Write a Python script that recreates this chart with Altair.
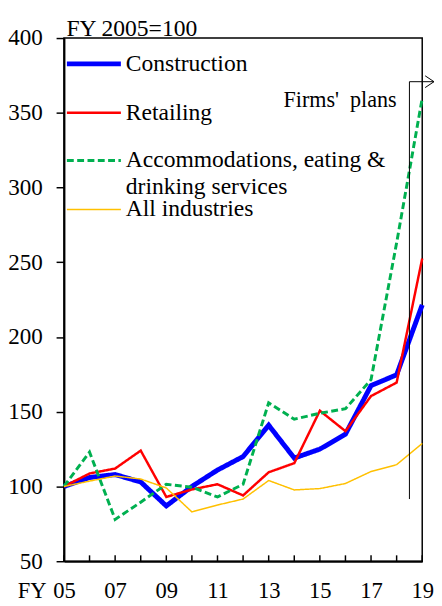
import altair as alt
import pandas as pd

# ---- data ----
years = list(range(2005, 2020))
construction = [100, 106, 108, 103, 87, 100, 111, 120, 141, 119, 125, 135, 167.5, 174.7, 221.5]
retailing = [100, 108.7, 112, 124, 93, 98, 101.5, 94, 109.5, 115.6, 150.7, 137, 160.5, 169.5, 252.5]
accommodations = [100, 123, 78, 89.5, 101.5, 99.5, 93, 101.5, 156, 145, 149, 152, 171.5, 263, 359.7]
all_industries = [100, 103.6, 107, 105, 99, 83, 87.6, 91.6, 104, 97.7, 98.6, 102, 110, 114.6, 128.8]

series_names = ["Construction", "Retailing",
                "Accommodations, eating & drinking services", "All industries"]
legend_lines = [["Construction"], ["Retailing"],
                ["Accommodations, eating &", "drinking services"], ["All industries"]]
series_values = [construction, retailing, accommodations, all_industries]

x_tick_values = [2005, 2007, 2009, 2011, 2013, 2015, 2017, 2019]
x_tick_labels = ["05", "07", "09", "11", "13", "15", "17", "19"]
y_tick_values = [50, 100, 150, 200, 250, 300, 350, 400]

plans_label = "Firms'\u00a0\u00a0plans"
plans_x = 2018.5
plans_bottom = 91.6
plans_top = 370.8
arrow_end_x = 2019.46
plans_text_x = 2018.0
plans_text_y = 353.8

# ---- styles ----
FONT = "Liberation Serif"
styles = [
    dict(color="#0000FF", width=5, dash=[1, 0]),
    dict(color="#FF0000", width=2.5, dash=[1, 0]),
    dict(color="#00B050", width=3, dash=[7, 3.5]),
    dict(color="#FFC000", width=1.5, dash=[1, 0]),
]

W, H = 365, 533
PAD_TOP, PAD_LEFT, PAD_RIGHT, PAD_BOTTOM = 25, 57, 12, 40

xs = alt.Scale(domain=[2005, 2019], nice=False, zero=False)
ys = alt.Scale(domain=[50, 400], nice=False, zero=False)

label_arr = "[" + ",".join("'%s'" % s for s in x_tick_labels) + "]"

x_axis = alt.Axis(values=x_tick_values, labelExpr=f"{label_arr}[round((datum.value-2005)/2)]",
                  ticks=False, tickSize=0, grid=False, domainColor="black", domainWidth=2,
                  labelFont=FONT, labelFontSize=23, labelColor="black", labelBaseline="alphabetic",
                  labelPadding=37, labelFlush=False, labelOverlap=False,
                  title="FY", titleFont=FONT, titleFontSize=23, titleFontWeight="normal",
                  titleColor="black", titleX=-33, titleY=37, titleAlign="center",
                  titleBaseline="alphabetic", titleAnchor="start")
y_axis = alt.Axis(values=y_tick_values, grid=False, domainColor="black", domainWidth=2,
                  tickColor="black", tickSize=8, tickWidth=1.5,
                  labelFont=FONT, labelFontSize=23.5, labelColor="black", labelPadding=14,
                  labelBaseline="middle", labelFlush=False, labelOverlap=False,
                  title="FY 2005=100", titleFont=FONT, titleFontSize=24, titleFontWeight="normal",
                  titleColor="black", titleAngle=0, titleAlign="left", titleBaseline="alphabetic",
                  titleX=2, titleY=-3, titleAnchor="start")


def X(field):
    return alt.X(field, scale=xs, axis=x_axis)


def Y(field):
    return alt.Y(field, scale=ys, axis=y_axis)


layers = []
for i, (name, vals, st) in enumerate(zip(series_names, series_values, styles)):
    d = pd.DataFrame({"year": years, "value": vals, "series": name})
    layers.append(
        alt.Chart(d).mark_line(color=st["color"], strokeWidth=st["width"],
                               strokeDash=st["dash"], strokeJoin="miter").encode(
            x=X("year:Q"), y=Y("value:Q"))
    )

# inward x-axis ticks at every year
tick_df = pd.DataFrame({"year": years})
layers.append(alt.Chart(tick_df).mark_rule(color="black", strokeWidth=1.5).encode(
    x=X("year:Q"), y=alt.value(H - 6), y2=alt.value(H)))

# Firms' plans annotation
vdf = pd.DataFrame({"year": [plans_x], "value": [plans_bottom], "value2": [plans_top]})
layers.append(alt.Chart(vdf).mark_rule(color="black", strokeWidth=1).encode(
    x=X("year:Q"), y=Y("value:Q"), y2="value2:Q"))
hdf = pd.DataFrame({"year": [plans_x], "year2": [arrow_end_x], "value": [plans_top]})
layers.append(alt.Chart(hdf).mark_rule(color="black", strokeWidth=1).encode(
    x=X("year:Q"), x2="year2:Q", y=Y("value:Q")))
adf = pd.DataFrame({"year": [arrow_end_x], "value": [plans_top]})
layers.append(alt.Chart(adf).mark_point(shape="M -1.5 -1 L 0 0 L -1.5 1", filled=False,
                                        size=144, stroke="black", strokeWidth=1, opacity=1).encode(
    x=X("year:Q"), y=Y("value:Q")))
tdf = pd.DataFrame({"year": [plans_text_x], "value": [plans_text_y], "t": [plans_label]})
layers.append(alt.Chart(tdf).mark_text(font=FONT, fontSize=22.5, align="right",
                                       baseline="alphabetic", color="black").encode(
    x=X("year:Q"), y=Y("value:Q"), text="t:N"))

# manual legend inside the plot
row_y = [26.3, 76, 124.7, 174.7]
one = pd.DataFrame({"a": [0]})
for i, (lines, st) in enumerate(zip(legend_lines, styles)):
    layers.append(alt.Chart(one).mark_rule(color=st["color"], strokeWidth=st["width"],
                                           strokeDash=st["dash"]).encode(
        x=alt.value(3), x2=alt.value(58), y=alt.value(row_y[i])))
    for j, line in enumerate(lines):
        layers.append(alt.Chart(one).mark_text(text=line, font=FONT, fontSize=24, align="left",
                                               baseline="middle", color="black").encode(
            x=alt.value(63), y=alt.value(row_y[i] + 27 * j)))

chart = alt.layer(*layers).properties(
    width=W, height=H,
    background="white",
    autosize=alt.AutoSizeParams(type="none"),
    padding={"left": PAD_LEFT, "top": PAD_TOP, "right": PAD_RIGHT, "bottom": PAD_BOTTOM},
).configure_view(stroke="black", strokeWidth=1.5)

chart.save("out.html", embed_options={"renderer": "svg", "actions": False})
